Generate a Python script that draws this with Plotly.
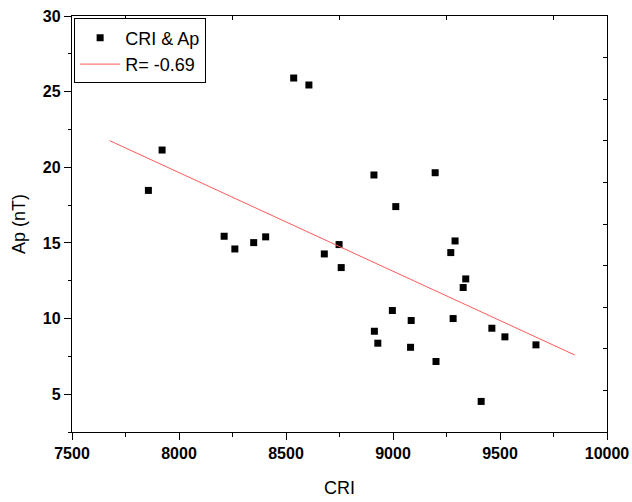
import numpy as np
import plotly.graph_objects as go

cri = [7857, 7921, 8211, 8261, 8349, 8405, 8536, 8607, 8679, 8748, 8758,
       8911, 8913, 8929, 8997, 9013, 9082, 9085, 9197, 9201, 9270, 9281,
       9290, 9328, 9340, 9412, 9462, 9523, 9668]
ap = [18.47, 21.14, 15.44, 14.60, 15.02, 15.40, 25.90, 25.44, 14.27, 14.89, 13.37,
      19.49, 9.16, 8.37, 10.53, 17.40, 8.10, 9.87, 19.64, 7.16, 14.36, 10.00,
      15.13, 12.05, 12.62, 4.52, 9.36, 8.79, 8.26]
x_ticks = [7500, 8000, 8500, 9000, 9500, 10000]
x_tick_labels = ["7500", "8000", "8500", "9000", "9500", "10000"]
y_ticks = [5, 10, 15, 20, 25, 30]
y_tick_labels = ["5", "10", "15", "20", "25", "30"]
scatter_name = "CRI & Ap"
fit_name = "R= -0.69"

x = np.array(cri, dtype=float)
y = np.array(ap, dtype=float)
slope, intercept = np.polyfit(x, y, 1)
span = x.max() - x.min()
fx = np.array([x.min() - 0.1 * span, x.max() + 0.1 * span])
fy = slope * fx + intercept

FONT = "Arial, Liberation Sans, sans-serif"

fig = go.Figure()
fig.add_trace(go.Scatter(x=cri, y=ap, mode="markers", name=scatter_name,
                         marker=dict(symbol="square", size=7, color="black",
                                     line=dict(width=0))))
fig.add_trace(go.Scatter(x=fx, y=fy, mode="lines", name=fit_name,
                         line=dict(color="rgb(255,90,90)", width=1)))
fig.add_trace(go.Scatter(x=[], y=[], xaxis="x2", yaxis="y2", showlegend=False,
                         hoverinfo="skip"))

fig.update_layout(
    width=632, height=502,
    margin=dict(l=72, r=25, t=16, b=70, autoexpand=False),
    paper_bgcolor="white", plot_bgcolor="white",
    font=dict(family=FONT, color="black"),
    showlegend=True,
    legend=dict(x=0.004, y=0.994, xanchor="left", yanchor="top",
                bgcolor="white", bordercolor="black", borderwidth=1,
                font=dict(size=18, family=FONT), tracegroupgap=0,
                itemwidth=40),
    xaxis=dict(range=[7500, 10000], tickvals=x_ticks, ticktext=x_tick_labels,
               automargin=False,
               ticks="outside", ticklen=7, tickwidth=1.2, tickcolor="black",
               minor=dict(dtick=250, tick0=7500, ticks="outside", ticklen=4,
                          tickcolor="black", tickwidth=1.2),
               showline=True, linecolor="black", linewidth=1.4, mirror=True,
               showgrid=False, zeroline=False,
               tickfont=dict(size=16, family=FONT, weight="bold"),
               title=dict(text="CRI", font=dict(size=18, family=FONT),
                          standoff=19)),
    yaxis=dict(range=[2.5, 30], tickvals=y_ticks, ticktext=y_tick_labels,
               automargin=False,
               ticks="outside", ticklen=7, tickwidth=1.2, tickcolor="black",
               minor=dict(dtick=2.5, tick0=2.5, ticks="outside", ticklen=3,
                          tickcolor="black", tickwidth=1.2),
               showline=True, linecolor="black", linewidth=1.4, mirror=True,
               showgrid=False, zeroline=False,
               tickfont=dict(size=16, family=FONT, weight="bold"),
               title=dict(text="Ap (nT)", font=dict(size=18, family=FONT),
                          standoff=12)),
    xaxis2=dict(overlaying="x", side="top", anchor="y", range=[7500, 10000],
                tickvals=[7750, 8250, 8750, 9250, 9750], ticks="inside",
                ticklen=4, tickcolor="black", tickwidth=1.2, automargin=False,
                showticklabels=False, showgrid=False, zeroline=False,
                showline=False),
    yaxis2=dict(overlaying="y", side="right", anchor="x", range=[0, 10],
                dtick=1, ticks="inside", ticklen=4, tickcolor="black",
                tickwidth=1.2, automargin=False, showticklabels=False,
                showgrid=False, zeroline=False, showline=False),
    hovermode=False,
)

fig.write_html("out.html", config={"displayModeBar": False},
               post_script="document.body.style.margin='0';document.body.style.overflow='hidden';")
